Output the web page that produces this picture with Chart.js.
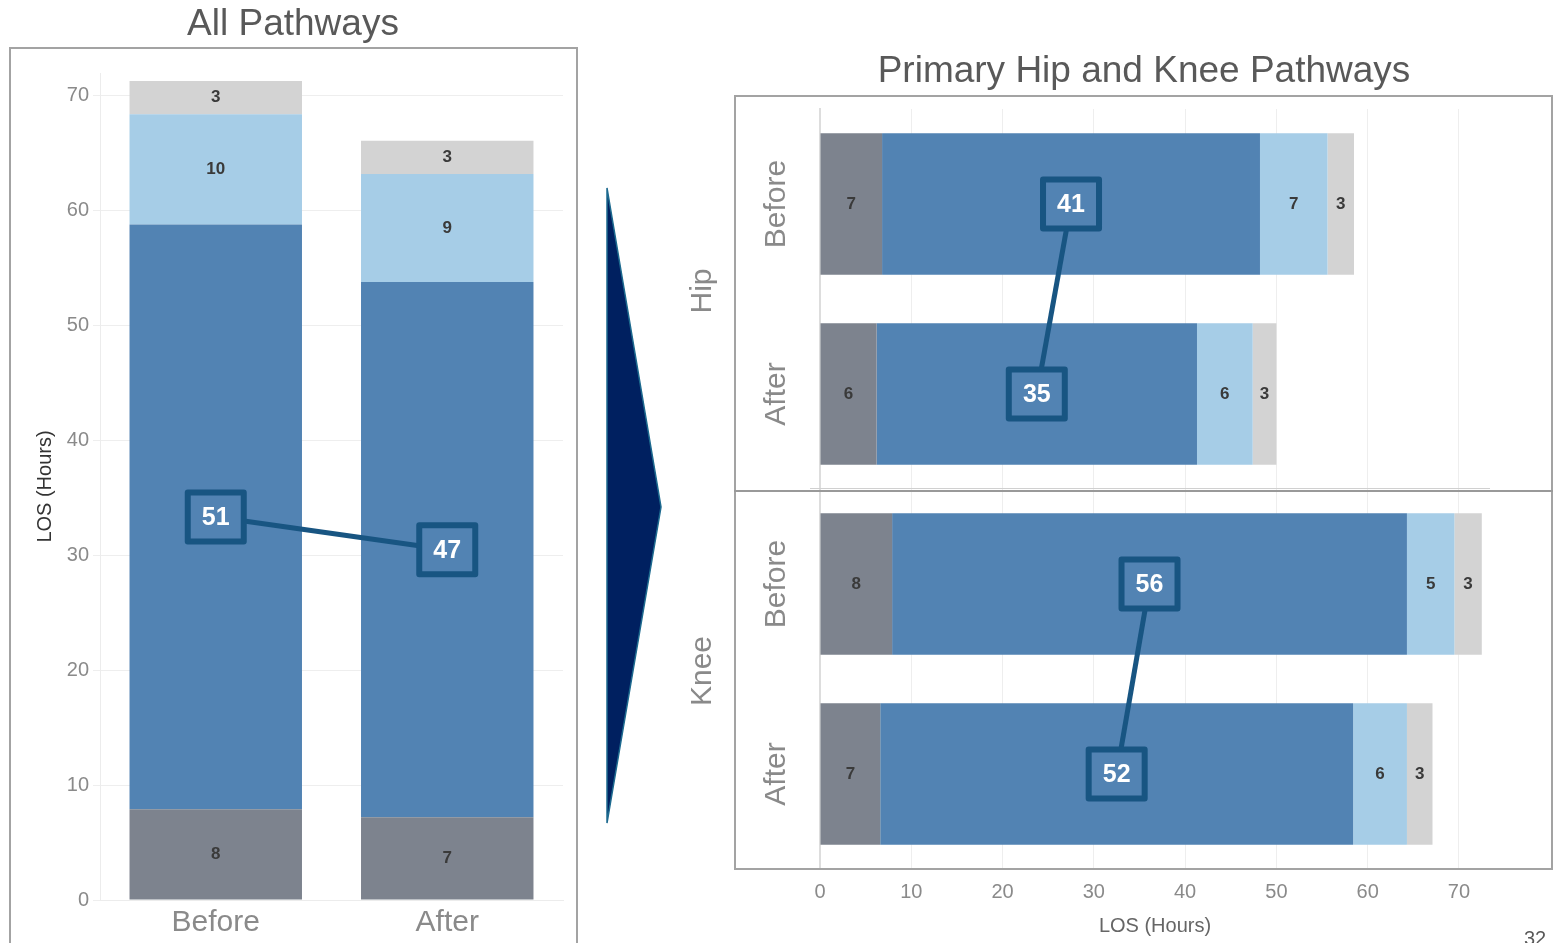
<!DOCTYPE html>
<html>
<head>
<meta charset="utf-8">
<script src="https://cdn.jsdelivr.net/npm/chart.js@4.4.1/dist/chart.umd.min.js"></script>
<style>
html,body{margin:0;padding:0;background:#fff;width:1553px;height:943px;overflow:hidden;font-family:'Liberation Sans',Arial,sans-serif}
canvas{position:absolute;top:0}
#leftChart{left:0}
#rightChart{left:670px}
.frame{position:absolute;pointer-events:none;box-sizing:border-box}
#pageNo{position:absolute;left:1524px;top:927px;font-size:20px;color:#595959}
</style>
</head>
<body>
<canvas id="leftChart" width="580" height="943"></canvas>
<canvas id="rightChart" width="883" height="943"></canvas>
<div class="frame" style="left:9px;top:47px;width:569px;height:910px;border:2px solid #a3a3a3;"></div>
<div class="frame" style="left:734px;top:95px;width:819px;height:775px;border:2px solid #a3a3a3;"></div>
<div class="frame" style="left:734px;top:490px;width:819px;height:2px;background:#999;"></div>
<div class="frame" style="left:810px;top:488px;width:680px;height:1px;background:#d0d0d0;"></div>
<svg class="frame" style="left:0;top:0" width="1553" height="943">
  <polygon points="607,188 661,507 607,823" fill="#002060" stroke="#1d6a8f" stroke-width="1.5"/>
</svg>
<div id="pageNo">32</div>
<script>
// ---------- data ----------
const leftTitle = 'All Pathways';
const rightTitle = 'Primary Hip and Knee Pathways';
const axisTitle = 'LOS (Hours)';
const leftCategories = ['Before', 'After'];
const rightCategories = ['Before', 'After', 'Before', 'After'];
const rightGroups = ['Hip', 'Knee'];
const segmentNames = ['Segment 1', 'Segment 2', 'Segment 3', 'Segment 4'];

const allSeg1 = [7.9, 7.2];
const allSeg2 = [50.9, 46.6];
const allSeg3 = [9.6, 9.4];
const allSeg4 = [2.9, 2.9];

const pathSeg1 = [6.8, 6.2, 7.9, 6.6];
const pathSeg2 = [41.4, 35.1, 56.4, 51.8];
const pathSeg3 = [7.4, 6.1, 5.2, 5.9];
const pathSeg4 = [2.9, 2.6, 3.0, 2.8];

const leftTickValues = [0, 10, 20, 30, 40, 50, 60, 70];
const rightTickValues = [0, 10, 20, 30, 40, 50, 60, 70];
const leftPairs = [[0, 1]];
const rightPairs = [[0, 1], [2, 3]];

// ---------- styles ----------
const COLORS = ['#7d838e', '#5283b3', '#a6cde7', '#d3d3d3'];
const BOX = '#185582';
const FONT = "'Liberation Sans', Arial, sans-serif";
Chart.defaults.font.family = FONT;
Chart.defaults.animation = false;

function makeDatasets(arrs) {
  return arrs.map((d, i) => ({
    label: segmentNames[i], data: d, backgroundColor: COLORS[i], borderWidth: 0,
    categoryPercentage: 1, barPercentage: 0.745
  }));
}

const segLabels = {
  id: 'segLabels',
  afterDatasetsDraw(chart, args, opts) {
    const ctx = chart.ctx;
    const horiz = chart.options.indexAxis === 'y';
    const centers = [];
    ctx.save();
    chart.data.datasets.forEach((ds, di) => {
      const meta = chart.getDatasetMeta(di);
      meta.data.forEach((el, i) => {
        const p = el.getProps(['x', 'y', 'base'], true);
        const cx = horiz ? (p.x + p.base) / 2 : p.x;
        const cy = horiz ? p.y : (p.y + p.base) / 2;
        if (di === opts.highlight) {
          centers[i] = { cx, cy, v: ds.data[i] };
        } else {
          ctx.fillStyle = '#3a3a3a';
          ctx.font = 'bold 17px ' + FONT;
          ctx.textAlign = 'center';
          ctx.textBaseline = 'middle';
          ctx.fillText(String(Math.round(ds.data[i])), cx, cy);
        }
      });
    });
    ctx.strokeStyle = BOX;
    ctx.lineWidth = 5;
    opts.pairs.forEach(([a, b]) => {
      ctx.beginPath();
      ctx.moveTo(centers[a].cx, centers[a].cy);
      ctx.lineTo(centers[b].cx, centers[b].cy);
      ctx.stroke();
    });
    const w = 56, h = 49;
    centers.forEach(c => {
      ctx.fillStyle = COLORS[1];
      ctx.fillRect(c.cx - w / 2, c.cy - h / 2, w, h);
      ctx.lineWidth = 6;
      ctx.lineJoin = 'round';
      ctx.strokeStyle = BOX;
      ctx.strokeRect(c.cx - w / 2, c.cy - h / 2, w, h);
      ctx.fillStyle = '#ffffff';
      ctx.font = 'bold 25px ' + FONT;
      ctx.textAlign = 'center';
      ctx.textBaseline = 'middle';
      ctx.fillText(String(Math.round(c.v)), c.cx, c.cy + 1);
    });
    ctx.restore();
  }
};

const catLabels = {
  id: 'catLabels',
  afterDraw(chart, args, opts) {
    const ctx = chart.ctx;
    const ys = chart.scales.y;
    ctx.save();
    ctx.fillStyle = '#8a8a8a';
    ctx.textAlign = 'center';
    ctx.textBaseline = 'middle';
    ctx.font = '30px ' + FONT;
    chart.data.labels.forEach((lab, i) => {
      const y = ys.getPixelForValue(i);
      ctx.save();
      ctx.translate(opts.catX, y);
      ctx.rotate(-Math.PI / 2);
      ctx.fillText(lab, 0, 0);
      ctx.restore();
    });
    rightGroups.forEach((g, gi) => {
      const y = (ys.getPixelForValue(gi * 2) + ys.getPixelForValue(gi * 2 + 1)) / 2 - 8;
      ctx.save();
      ctx.translate(opts.groupX, y);
      ctx.rotate(-Math.PI / 2);
      ctx.fillText(g, 0, 0);
      ctx.restore();
    });
    ctx.restore();
  }
};

// ---------- left chart ----------
new Chart(document.getElementById('leftChart'), {
  type: 'bar',
  data: { labels: leftCategories, datasets: makeDatasets([allSeg1, allSeg2, allSeg3, allSeg4]) },
  plugins: [segLabels],
  options: {
    responsive: false,
    layout: { padding: { left: 23, right: 17, top: 0, bottom: 0 } },
    plugins: {
      legend: { display: false },
      tooltip: { enabled: false },
      title: { display: true, text: leftTitle, color: '#595959',
        font: { size: 37, weight: 'normal', lineHeight: 1.2 }, padding: { top: 2.8, bottom: 25.8 } },
      segLabels: { highlight: 1, pairs: leftPairs }
    },
    scales: {
      x: {
        stacked: true,
        grid: { display: false },
        border: { display: true, color: '#ececec', width: 1 },
        ticks: { color: '#8a8a8a', font: { size: 30, lineHeight: 1.2 }, padding: -3 },
        afterFit(s) { s.height = 43; }
      },
      y: {
        stacked: true, min: 0, max: 72,
        afterBuildTicks(s) { s.ticks = leftTickValues.map(v => ({ value: v })); },
        ticks: { color: '#8a8a8a', font: { size: 20 }, padding: 4 },
        grid: { color: '#eeeeee', tickLength: 7, tickColor: '#eeeeee' },
        border: { display: true, color: '#ececec' },
        title: { display: true, text: axisTitle, color: '#333333', font: { size: 20, lineHeight: 1.2 }, padding: { top: 10, bottom: 0 } },
        afterFit(s) { s.width = 77; }
      }
    }
  }
});

// ---------- right chart ----------
new Chart(document.getElementById('rightChart'), {
  type: 'bar',
  data: { labels: rightCategories, datasets: makeDatasets([pathSeg1, pathSeg2, pathSeg3, pathSeg4]) },
  plugins: [segLabels, catLabels],
  options: {
    indexAxis: 'y',
    responsive: false,
    layout: { padding: { left: 128, right: 63, top: 0, bottom: 0 } },
    plugins: {
      legend: { display: false },
      tooltip: { enabled: false },
      title: { display: true, text: rightTitle, color: '#595959',
        font: { size: 37, weight: 'normal', lineHeight: 1.2 }, padding: { top: 49.8, bottom: 14.8 } },
      segLabels: { highlight: 1, pairs: rightPairs },
      catLabels: { catX: 777 - 670, groupX: 703 - 670 }
    },
    scales: {
      y: {
        stacked: true,
        grid: { display: false },
        border: { display: true, color: '#dddddd', width: 2 },
        ticks: { display: false },
        afterFit(s) { s.width = 22; }
      },
      x: {
        stacked: true, min: 0, max: 73.4,
        afterBuildTicks(s) { s.ticks = rightTickValues.map(v => ({ value: v })); },
        ticks: { color: '#8a8a8a', font: { size: 20, lineHeight: 1.2 }, padding: 11 },
        grid: { color: '#eeeeee', drawTicks: false },
        border: { display: false },
        title: { display: true, text: axisTitle, color: '#666666', font: { size: 20, lineHeight: 1.2 }, padding: { top: 0, bottom: 5 } },
        afterFit(s) { s.width = undefined; s.height = 74; }
      }
    }
  }
});
</script>
</body>
</html>
